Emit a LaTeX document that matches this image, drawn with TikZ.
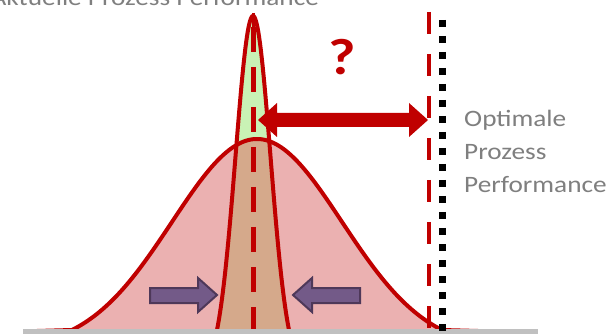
\documentclass[tikz,border=0pt]{standalone}
\usepackage{fontspec}
\newfontfamily\labfont[FakeStretch=1.16]{Carlito}
\definecolor{cred}{HTML}{C00000}
\definecolor{cpink}{HTML}{EBB1B1}
\definecolor{ctan}{HTML}{D5A98B}
\definecolor{cgreen}{HTML}{C9F2B5}
\definecolor{cpurp}{HTML}{735A88}
\definecolor{cpurpd}{HTML}{4E3859}
\definecolor{cgrey}{HTML}{7F7F7F}
\definecolor{cbase}{HTML}{C0C0C0}
\tikzset{
  curveline/.style={cred, line width=4pt, line join=round},
  redarrow/.style={fill=cred},
  purparrow/.style={fill=cpurp, draw=cpurpd, line width=2pt, line join=miter},
  lbl/.style={text=cgrey, inner sep=0pt, font=\labfont\fontsize{23.5}{23.5}\selectfont},
}
\def\widecurve{plot[domain=-2.1765:2.1765, samples=121, smooth] ({257+85*\x},{330-191*(exp(-\x*\x/2)-0.0936)/0.9064})}
\def\narrowcurve{plot[domain=-2.0571:2.0571, samples=121, smooth] ({253+17.5*\x},{330-314*(exp(-\x*\x/2)-0.1205)/0.8795})}
\begin{document}
\begin{tikzpicture}[x=1pt,y=-1pt]
\clip (0,0) rectangle (611,334);
\fill[white] (0,0) rectangle (611,334);
% fills
\fill[cpink] \widecurve -- cycle;
\fill[cgreen] \narrowcurve -- cycle;
\begin{scope}
  \clip \widecurve -- cycle;
  \fill[ctan] \narrowcurve -- cycle;
\end{scope}
% outlines
\coordinate (wl) at (37,331);
\coordinate (wl2) at (72,330);
\coordinate (wr) at (478,331);
\coordinate (wr2) at (442,330);
\draw[curveline] (wl) -- (wl2);
\draw[curveline] (wr2) -- (wr);
\draw[curveline] \widecurve;
\draw[curveline] \narrowcurve;
\coordinate (tip) at (253,13);
\coordinate (tip2) at (253,30);
\draw[cred, line width=3pt] (tip) -- (tip2);
% centre dashed line
\coordinate (ctop) at (253,27);
\coordinate (cbot) at (253,330);
\draw[cred, line width=5pt, dash pattern=on 25pt off 15pt] (ctop) -- (cbot);
% optimal dashed line
\coordinate (otop) at (429,12);
\coordinate (obot) at (429,330);
\draw[cred, line width=4.5pt, dash pattern=on 22pt off 20pt] (otop) -- (obot);
% purple arrows
\draw[purparrow] (150,288) -- (198,288) -- (198,278) -- (217,295) -- (198,312) -- (198,303) -- (150,303) -- cycle;
\draw[purparrow] (360,288) -- (312,288) -- (312,278) -- (293,295) -- (312,312) -- (312,303) -- (360,303) -- cycle;
% red double arrow
\fill[redarrow] (258,120) -- (277,103) -- (277,113) -- (409,113) -- (409,103) -- (428,120) -- (409,137) -- (409,127) -- (277,127) -- (277,137) -- cycle;
% baseline
\coordinate (bl) at (23,331.5);
\coordinate (br) at (538,331.5);
\draw[cbase, line width=5pt] (bl) -- (br);
% black dotted line
\coordinate (dtop) at (442,20);
\coordinate (dbot) at (442,333);
\draw[black, line width=7pt, dash pattern=on 7pt off 9pt] (dtop) -- (dbot);
% texts
\node[lbl, anchor=base east] (akt) at (319,6) {Aktuelle Prozess Performance};
\node[lbl, anchor=base west] (opt1) at (464,127) {Optimale};
\node[lbl, anchor=base west] (opt2) at (464,160) {Prozess};
\node[lbl, anchor=base west] (opt3) at (464,193) {Performance};
\node[inner sep=0pt, text=cred, font=\labfont\bfseries\fontsize{51}{51}\selectfont, anchor=base] (q) at (342.5,75) {?};
\end{tikzpicture}
\end{document}
